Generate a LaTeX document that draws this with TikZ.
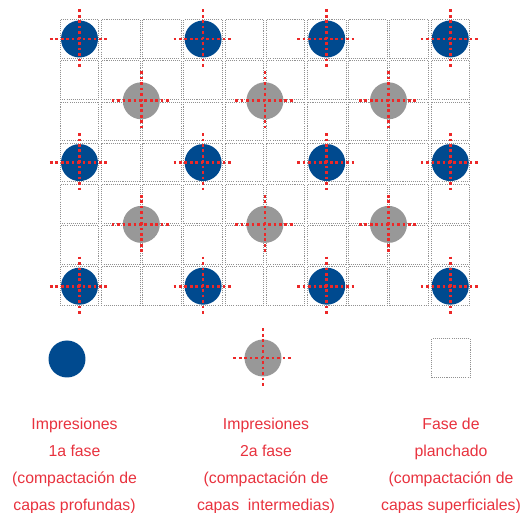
\documentclass[tikz,border=0pt]{standalone}
\usepackage{fontspec}
\setmainfont{Liberation Sans}
\usepackage{tikz}
\definecolor{impblue}{RGB}{0,74,143}
\definecolor{impred}{RGB}{236,40,40}
\definecolor{imptext}{RGB}{232,50,62}
\definecolor{impgrey}{RGB}{152,152,152}
\definecolor{cellgrey}{RGB}{145,145,145}

\begin{document}
\begin{tikzpicture}[x=0.02cm, y=-0.02cm,
  cell/.style={draw=cellgrey, line width=0.55pt, dash pattern=on 0.6pt off 0.6pt,
    minimum size=0.772cm, inner sep=0pt},
  first/.style={circle, fill=impblue, minimum size=0.74cm, inner sep=0pt},
  second/.style={circle, fill=impgrey, minimum size=0.74cm, inner sep=0pt},
  cross/.style={draw=impred, line width=1.55pt, dash pattern=on 1.5pt off 1.6pt},
  caption/.style={text=imptext, align=center, font=\fontsize{9}{15.4}\selectfont}]
  \useasboundingbox (0,0) rectangle (522,513);

  % Grid
  \foreach \i in {0,...,9}
    \foreach \j in {0,...,6}
      \node[cell] (c-\i-\j) at ({79.5+41.2*\i}, {39+41.2*\j}) {};

  % Impresiones 1a fase
  \foreach \i in {0,3,6,9}
    \foreach \j in {0,3,6} {
      \node[first] (b-\i-\j) at (c-\i-\j) {};
      \draw[cross] (b-\i-\j.center) +(-29.5,0) -- +(29.5,0) +(0,-29.5) -- +(0,29.5);
    }

  % Impresiones 2a fase
  \foreach \i in {1,4,7}
    \foreach \j in {1,4} {
      \node[second] (g-\i-\j) at ({79.5+41.2*(\i+0.5)}, {39+41.2*(\j+0.5)}) {};
      \draw[cross] (g-\i-\j.center) +(-29.5,0) -- +(29.5,0) +(0,-29.5) -- +(0,29.5);
    }

  % Key
  \node[first] (key1) at (67,359) {};
  \node[second] (key2) at (263,358) {};
  \draw[cross] (key2.center) +(-29.5,0) -- +(29.5,0) +(0,-29.5) -- +(0,29.5);
  \node[cell] (key3) at (451,358) {};

  % Captions
  \node[caption] (t1) at (74.5,466) {Impresiones\\1a fase\\(compactación de\\capas profundas)};
  \node[caption] (t2) at (266,466) {Impresiones\\2a fase\\(compactación de\\capas\ \ intermedias)};
  \node[caption] (t3) at (451,466) {Fase de\\planchado\\(compactación de\\capas superficiales)};
\end{tikzpicture}
\end{document}
